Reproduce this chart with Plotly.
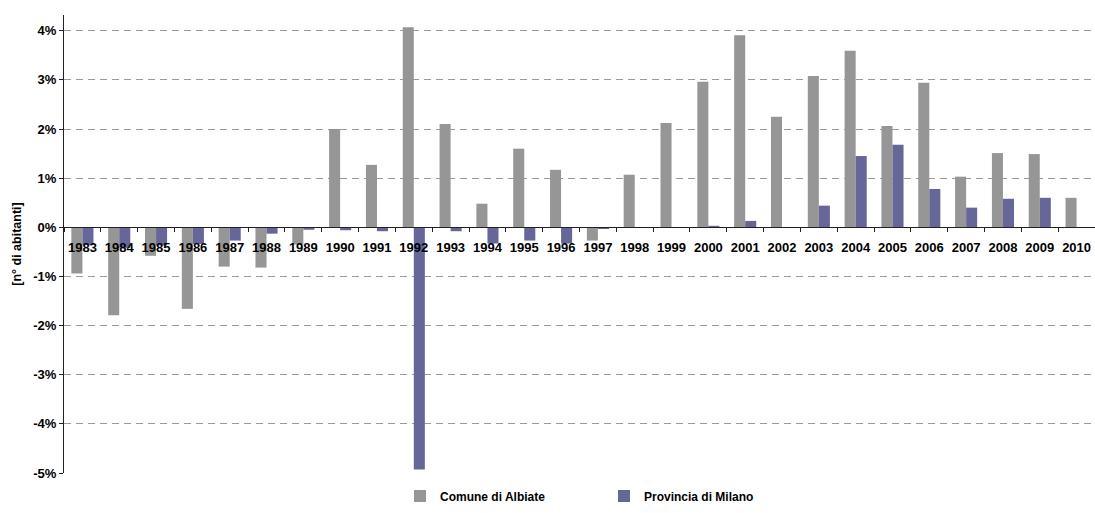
import plotly.graph_objects as go

# Annual population change (%) per year
years = [str(y) for y in range(1983, 2011)]

comune_albiate = [
    -0.94, -1.79, -0.58, -1.66, -0.80, -0.82, -0.35, 2.00, 1.27, 4.07,
    2.10, 0.48, 1.60, 1.17, -0.27, 1.07, 2.12, 2.96, 3.91, 2.25,
    3.08, 3.59, 2.06, 2.94, 1.03, 1.51, 1.49, 0.60,
]
provincia_milano = [
    -0.36, -0.42, -0.37, -0.34, -0.27, -0.13, -0.05, -0.06, -0.08, -4.93,
    -0.08, -0.33, -0.27, -0.33, -0.02, -0.01, -0.01, 0.03, 0.13, -0.01,
    0.44, 1.45, 1.68, 0.78, 0.40, 0.58, 0.60, None,
]

y_ticks = [-5, -4, -3, -2, -1, 0, 1, 2, 3, 4]
y_tick_labels = [f"{v}%" for v in y_ticks]
y_range = [-5, 4.32]

FONT = "Liberation Sans, Arial, sans-serif"
GRAY = "#969696"
PURPLE = "#666699"

fig = go.Figure()
fig.add_trace(go.Bar(x=years, y=comune_albiate, name="Comune di Albiate",
                     marker=dict(color=GRAY, line=dict(width=0))))
fig.add_trace(go.Bar(x=years, y=provincia_milano, name="Provincia di Milano",
                     marker=dict(color=PURPLE, line=dict(width=0))))

# x axis crosses the value axis at 0
zero_pos = (0 - y_range[0]) / (y_range[1] - y_range[0])

fig.update_layout(
    width=1095, height=513,
    margin=dict(l=64, r=0, t=15, b=40),
    paper_bgcolor="white", plot_bgcolor="white",
    barmode="group", bargap=0.40, bargroupgap=0,
    font=dict(family=FONT, size=13, color="black"),
    showlegend=True,
    legend=dict(
        orientation="h", x=(400 - 64) / 1031, xanchor="left",
        y=(473 - 496) / 458, yanchor="middle",
        entrywidth=159, entrywidthmode="pixels",
        font=dict(family=FONT, size=12, color="black", weight="bold"),
        bgcolor="rgba(0,0,0,0)",
    ),
    xaxis=dict(
        type="category", anchor="free", position=zero_pos,
        showline=True, linecolor="#222222", linewidth=1,
        ticks="outside", ticklen=4, tickcolor="#222222", tickson="boundaries",
        showgrid=False, tickangle=0,
        tickfont=dict(family=FONT, size=13, color="black", weight="bold"),
        ticklabelstandoff=8,
    ),
    yaxis=dict(
        range=y_range, tickvals=y_ticks, ticktext=y_tick_labels,
        showline=True, linecolor="#222222", linewidth=1,
        ticks="outside", ticklen=4, tickcolor="#222222",
        showgrid=True, gridcolor="#9a9a9a", gridwidth=1, griddash="7px,5px",
        zeroline=False,
        tickfont=dict(family=FONT, size=13, color="black", weight="bold"),
        title=dict(text="[n° di abitanti]", standoff=8,
                   font=dict(family=FONT, size=12.5, color="black", weight="bold")),
    ),
)

fig.write_html("out.html")
